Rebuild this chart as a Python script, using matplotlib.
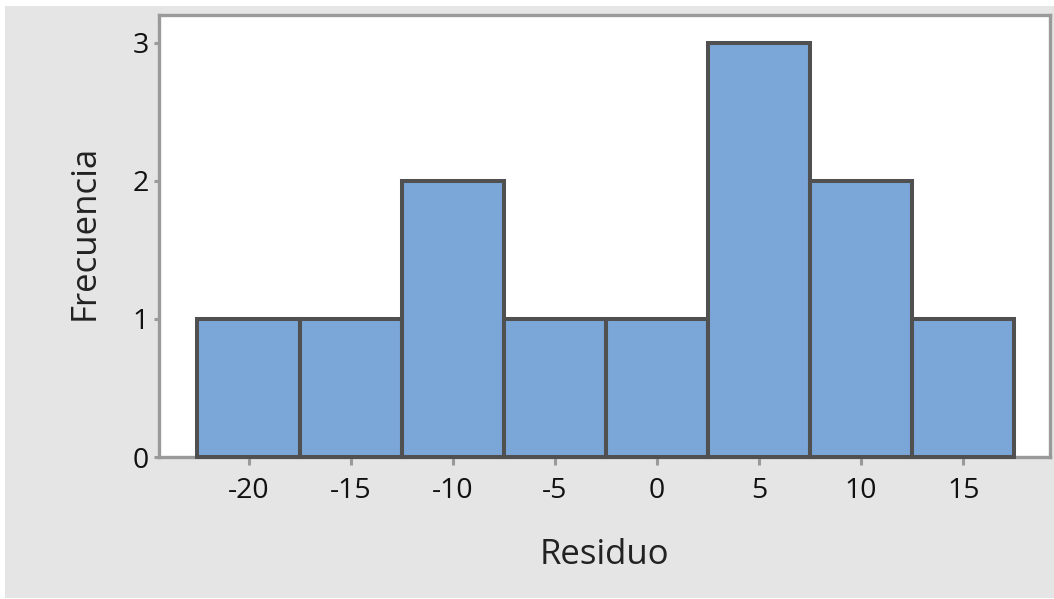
import matplotlib
matplotlib.use("Agg")
import matplotlib.pyplot as plt
from matplotlib.patches import Rectangle

plt.rcParams["axes.unicode_minus"] = False

# Histogram of residuals
bin_centers = [-20, -15, -10, -5, 0, 5, 10, 15]
frequencies = [1, 1, 2, 1, 1, 3, 2, 1]
bin_width = 5
x_ticks = [-20, -15, -10, -5, 0, 5, 10, 15]
y_ticks = [0, 1, 2, 3]

W, H = 1054, 599
fig = plt.figure(figsize=(W / 100, H / 100), dpi=100, facecolor="white")

# grey panel behind the plot
fig.patches.append(Rectangle((5 / W, 1 / H), 1 - 5 / W, 1 - 7 / H,
                             transform=fig.transFigure, facecolor="#e5e5e5",
                             edgecolor="none", zorder=-10))

left, right = 158.7 / W, 1050 / W
top, bottom = 1 - 15 / H, 1 - 457 / H
ax = fig.add_axes([left, bottom, right - left, top - bottom])
ax.set_facecolor("white")

ax.bar(bin_centers, frequencies, width=bin_width, color="#7ba6d8",
       edgecolor="#505050", linewidth=2.9, zorder=3, clip_on=False)

ax.set_xlim(-24.4, 19.25)
ax.set_ylim(0, 3.2)
ax.set_xticks(x_ticks)
ax.set_yticks(y_ticks)

for s in ax.spines.values():
    s.set_color("#9a9a9a")
    s.set_linewidth(2.4)

font = "Open Sans"
ax.tick_params(axis="x", length=5.5, width=2.2, color="#9a9a9a", pad=9,
               labelsize=20.5, labelcolor="#111111")
ax.tick_params(axis="y", length=3.5, width=2.2, color="#9a9a9a", pad=3.5,
               labelsize=20.5, labelcolor="#111111")
for lab in ax.get_xticklabels() + ax.get_yticklabels():
    lab.set_fontfamily(font)

fig.text(604 / W, 1 - 555 / H, "Residuo", fontsize=25, family=font,
         color="#222222", ha="center", va="center")
fig.text(85 / W, 1 - 232 / H, "Frecuencia", fontsize=25, family=font,
         color="#222222", ha="center", va="center", rotation=90)

fig.savefig("out.png", dpi=100, facecolor=fig.get_facecolor())
